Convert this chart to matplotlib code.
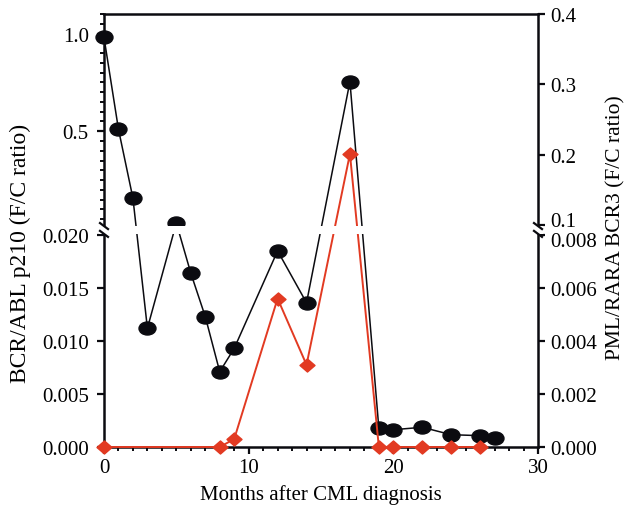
import numpy as np
import matplotlib
matplotlib.use('Agg')
import matplotlib.pyplot as plt
from matplotlib.path import Path
from matplotlib.patches import Rectangle
from matplotlib.lines import Line2D
from matplotlib.transforms import ScaledTranslation
from matplotlib.ticker import FixedLocator, FixedFormatter, MultipleLocator

plt.rcParams['font.family'] = ['Liberation Serif', 'DejaVu Serif']

# data
months_bcr = [0, 1, 2, 3, 5, 6, 7, 8, 9, 12, 14, 17, 19, 20, 22, 24, 26, 27]
bcr_abl = [0.98, 0.51, 0.157, 0.0112, 0.03, 0.0164, 0.0123, 0.0071, 0.0093,
           0.0185, 0.0136, 0.754, 0.00176, 0.00163, 0.00186, 0.00116,
           0.00107, 0.00085]
months_pml = [0, 8, 9, 12, 14, 17, 19, 20, 22, 24, 26]
pml_rara = [0, 0, 0.0003, 0.0056, 0.0031, 0.201, 0, 0, 0, 0, 0]

left_ticks = [0, 0.005, 0.01, 0.015, 0.02, 0.5, 1.0]
left_labels = ['0.000', '0.005', '0.010', '0.015', '0.020', '0.5', '1.0']
right_ticks = [0, 0.002, 0.004, 0.006, 0.008, 0.1, 0.2, 0.3, 0.4]
right_labels = ['0.000', '0.002', '0.004', '0.006', '0.008',
                '0.1', '0.2', '0.3', '0.4']

BLACK = '#0b0b10'
RED = '#e23a22'

# broken axis: lower panel = 1 unit, gap, upper panel
GAP = 0.047
TOP = 0.995
UT = 1 + GAP + TOP


def left_fwd(v):
    v = np.asarray(v, float)
    return np.where(v <= 0.02, v / 0.02, 1 + GAP + (v - 0.02) / 1.08 * TOP)


def left_inv(u):
    u = np.asarray(u, float)
    return np.where(u <= 1, u * 0.02,
                    np.where(u < 1 + GAP, 0.02,
                             0.02 + (u - 1 - GAP) / TOP * 1.08))


def right_fwd(v):
    v = np.asarray(v, float)
    return np.where(v <= 0.008, v / 0.008,
                    np.where(v < 0.1, 1 + (v - 0.008) / 0.092 * GAP,
                             1 + GAP + (v - 0.1) / 0.3 * TOP))


def right_inv(u):
    u = np.asarray(u, float)
    return np.where(u <= 1, u * 0.008,
                    np.where(u < 1 + GAP, 0.008 + (u - 1) / GAP * 0.092,
                             0.1 + (u - 1 - GAP) / TOP * 0.3))


circ = Path.unit_circle()
ellipse = Path(circ.vertices * [1.3, 1.0], circ.codes)
diamond = Path([(-1.15, 0), (0, 1), (1.15, 0), (0, -1), (-1.15, 0)],
               [Path.MOVETO, Path.LINETO, Path.LINETO, Path.LINETO,
                Path.CLOSEPOLY])

fig = plt.figure(figsize=(6.31, 5.06), dpi=100)
ax = fig.add_axes([104 / 631, 1 - 448 / 506, 434 / 631, 433 / 506])
ax.set_yscale('function', functions=(left_fwd, left_inv))
ax.plot(months_bcr, bcr_abl, color=BLACK, lw=1.1, marker=ellipse,
        markersize=12.2, clip_on=False, zorder=3)
ax.set_xlim(0, 30)
ax.set_ylim(0, 1.1)
ax.yaxis.set_major_locator(FixedLocator(left_ticks))
ax.yaxis.set_major_formatter(FixedFormatter(left_labels))
minor = [m for m in np.arange(0.05, 1.101, 0.05)
         if abs(m - 0.5) > 1e-6 and abs(m - 1.0) > 1e-6]
ax.yaxis.set_minor_locator(FixedLocator(minor))
ax.xaxis.set_major_locator(FixedLocator([0, 10, 20, 30]))
ax.xaxis.set_minor_locator(MultipleLocator(1))
ax.spines['right'].set_visible(False)
for s in ['left', 'top', 'bottom']:
    ax.spines[s].set_linewidth(1.8)
    ax.spines[s].set_color(BLACK)
ax.tick_params(which='major', direction='out', length=5, width=1.6,
               labelsize=15, color=BLACK, pad=3)
ax.tick_params(axis='y', which='major', pad=6)
ax.tick_params(which='minor', direction='out', length=3, width=1.4,
               color=BLACK)
ax.set_xlabel('Months after CML diagnosis', fontsize=15)
ax.xaxis.set_label_coords(0.5, -0.085)
ax.set_ylabel('BCR/ABL p210 (F/C ratio)', fontsize=17)
ax.yaxis.set_label_coords(-0.168, 0.45)

ax2 = ax.twinx()
ax2.set_yscale('function', functions=(right_fwd, right_inv))
ax2.plot(months_pml, pml_rara, color=RED, lw=1.4, marker=diamond,
         markersize=10.8, clip_on=False, zorder=3)
ax2.set_ylim(0, 0.4)
ax2.yaxis.set_major_locator(FixedLocator(right_ticks))
ax2.yaxis.set_major_formatter(FixedFormatter(right_labels))
ax2.yaxis.set_minor_locator(FixedLocator([]))
for s in ['left', 'top', 'bottom']:
    ax2.spines[s].set_visible(False)
ax2.spines['right'].set_linewidth(1.8)
ax2.spines['right'].set_color(BLACK)
ax2.tick_params(which='major', direction='out', length=5, width=1.6,
                labelsize=15, color=BLACK, pad=4)
ax2.set_ylabel('PML/RARA BCR3 (F/C ratio)', fontsize=15.5)
ax2.yaxis.set_label_coords(1.157, 0.508)

# nudge the two crowded labels at the break apart
ticks = ax2.yaxis.get_major_ticks()
for i, shift in ((4, -4.5), (5, 5.5)):
    lab = ticks[i].label2
    lab.set_transform(lab.get_transform() +
                      ScaledTranslation(0, shift / 100, fig.dpi_scale_trans))

# white gap across the break
y0 = (1 + 0.005) / UT
y1 = (1 + GAP - 0.005) / UT
ax2.add_patch(Rectangle((-0.012, y0), 1.024, y1 - y0, transform=ax2.transAxes,
                        facecolor='white', edgecolor='none', zorder=10,
                        clip_on=False))
dx = 4 / 434
dy = 3 / 433
for xe in (0, 1):
    for ye in (y0, y1):
        ax2.add_line(Line2D([xe - dx, xe + dx], [ye + dy, ye - dy],
                            transform=ax2.transAxes, color=BLACK, lw=1.6,
                            clip_on=False, zorder=11))

fig.savefig('out.png', dpi=100)
